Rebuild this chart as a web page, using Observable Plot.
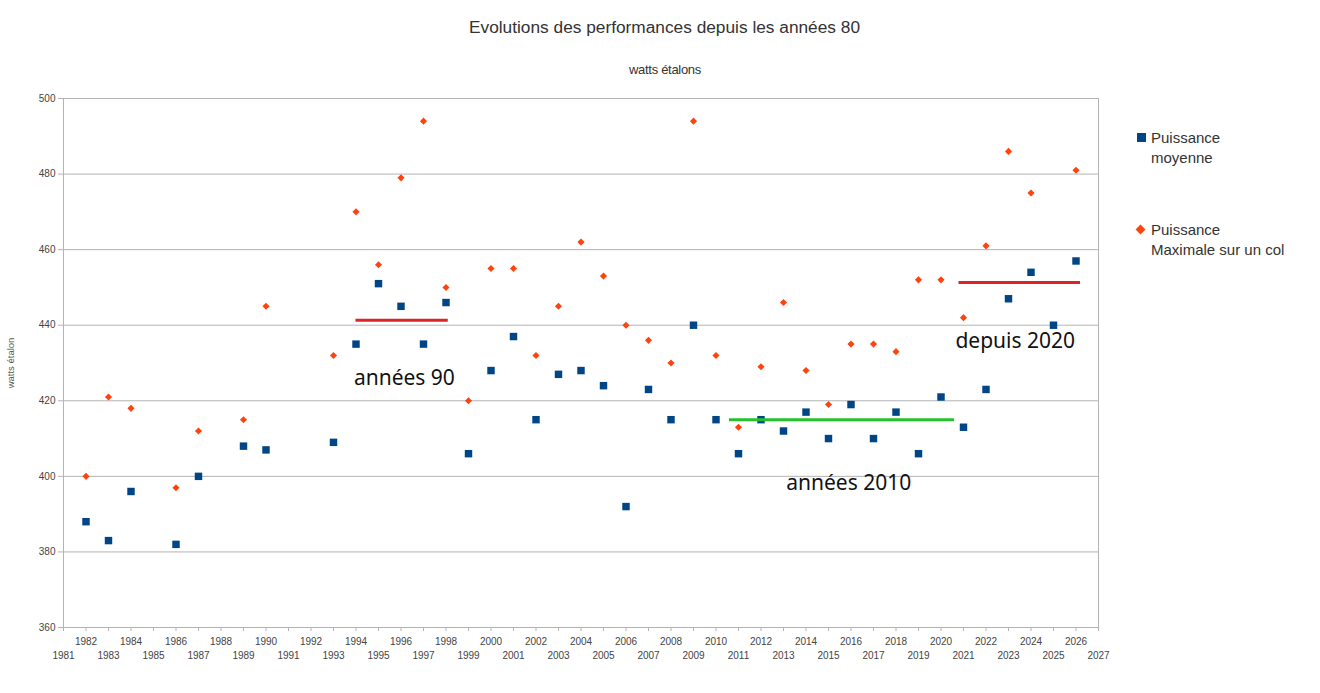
<!DOCTYPE html>
<html>
<head>
<meta charset="utf-8">
<script src="https://cdn.jsdelivr.net/npm/d3@7"></script>
<script src="https://cdn.jsdelivr.net/npm/@observablehq/plot@0.6"></script>
<style>
  body { margin: 0; background: #fff; }
  #wrap { position: relative; width: 1320px; height: 693px; font-family: "Liberation Sans", Arial, sans-serif; }
  #title { position: absolute; left: 0; width: 1329px; top: 17px; text-align: center; font-size: 17.3px; color: #333; }
  #subtitle { position: absolute; left: 0; width: 1330px; top: 62px; text-align: center; font-size: 13px; color: #333; letter-spacing: -0.3px; }
  #chart { position: absolute; left: 0; top: 80px; }
  .leg { position: absolute; font-size: 15px; color: #333; line-height: 20px; }
  .sq { position: absolute; width: 9px; height: 9px; background: #004586; }
  .dm { position: absolute; width: 7px; height: 7px; background: #ff420e; transform: rotate(45deg); }
</style>
</head>
<body>
<div id="wrap">
  <div id="title">Evolutions des performances depuis les années 80</div>
  <div id="subtitle">watts étalons</div>
  <div id="chart"></div>
  <div class="sq" style="left:1137px; top:133px;"></div>
  <div class="leg" style="left:1151px; top:128px;">Puissance<br>moyenne</div>
  <div class="dm" style="left:1137px; top:226px;"></div>
  <div class="leg" style="left:1151px; top:220px;">Puissance<br>Maximale sur un col</div>
</div>
<script>
const years = [1982,1983,1984,1986,1987,1989,1990,1993,1994,1995,1996,1997,1998,1999,2000,2001,2002,2003,2004,2005,2006,2007,2008,2009,2010,2011,2012,2013,2014,2015,2016,2017,2018,2019,2020,2021,2022,2023,2024,2025,2026];
const moyenne = [388,383,396,382,400,408,407,409,435,451,445,435,446,406,428,437,415,427,428,424,392,423,415,440,415,406,415,412,417,410,419,410,417,406,421,413,423,447,454,440,457];
const maximale = [400,421,418,397,412,415,445,432,470,456,479,494,450,420,455,455,432,445,462,453,440,436,430,494,432,413,429,446,428,419,435,435,433,452,452,442,461,486,475,null,481];

const yTicks = [360,380,400,420,440,460,480,500];
const xTickYears = d3.range(1981, 2028);

const periodLabels = ["années 90", "années 2010", "depuis 2020"];
const periodStart = [1994, 2010.6, 2020.8];
const periodEnd = [1998.1, 2020.6, 2026.2];
const periodLevel = [441.3, 415, 451.3];
const labelX = [1996.15, 2015.9, 2023.3];
const labelY = [425.9, 398.1, 435.7];

const periodColors = ["#dc2326", "#22c32a", "#dc2326"];

const moyData = years.map((y, i) => ({year: y, v: moyenne[i]}));
const maxData = years.map((y, i) => ({year: y, v: maximale[i]})).filter(d => d.v != null);
const periods = periodLabels.map((l, i) => ({label: l, x1: periodStart[i], x2: periodEnd[i], y: periodLevel[i], lx: labelX[i], ly: labelY[i], c: periodColors[i]}));

const even = xTickYears.filter(d => d % 2 === 0);
const odd = xTickYears.filter(d => d % 2 === 1);

const chart = Plot.plot({
  width: 1320,
  height: 613,
  marginTop: 18,
  marginBottom: 66,
  marginLeft: 63,
  marginRight: 222,
  style: {fontFamily: "Liberation Sans, Arial, sans-serif", fontSize: "10px", color: "#444", background: "#fff"},
  x: {domain: [1981, 2027]},
  y: {domain: [360, 500]},
  marks: [
    Plot.gridY(yTicks, {stroke: "#b3b3b3", strokeOpacity: 1}),
    Plot.frame({stroke: "#b3b3b3"}),
    Plot.axisY(yTicks, {tickSize: 5, tickPadding: 3, stroke: "#b3b3b3", fill: "#444", label: null, fontSize: 10}),
    Plot.axisY({label: "watts étalon", ticks: [], tickSize: 0, labelAnchor: "center", labelOffset: 56, labelArrow: "none", fontSize: 9.5, fill: "#555"}),
    Plot.axisX(even, {tickSize: 4, tickPadding: 6, stroke: "#b3b3b3", fill: "#444", tickFormat: d => String(d), label: null}),
    Plot.axisX(odd, {tickSize: 4, tickPadding: 20, stroke: "#b3b3b3", fill: "#444", tickFormat: d => String(d), label: null}),
    Plot.dot(moyData, {x: "year", y: "v", symbol: "square", r: 4.2, fill: "#004586", stroke: null}),
    Plot.dot(maxData, {x: "year", y: "v", symbol: "diamond2", r: 3.2, fill: "#ff420e", stroke: null}),
    Plot.ruleY(periods, {y: "y", x1: "x1", x2: "x2", stroke: "c", strokeWidth: 3}),
    Plot.text(periods, {x: "lx", y: "ly", text: "label", fontSize: 21, fontFamily: "Noto Sans", fill: "#111"})
  ]
});
document.getElementById("chart").appendChild(chart);
</script>
</body>
</html>
